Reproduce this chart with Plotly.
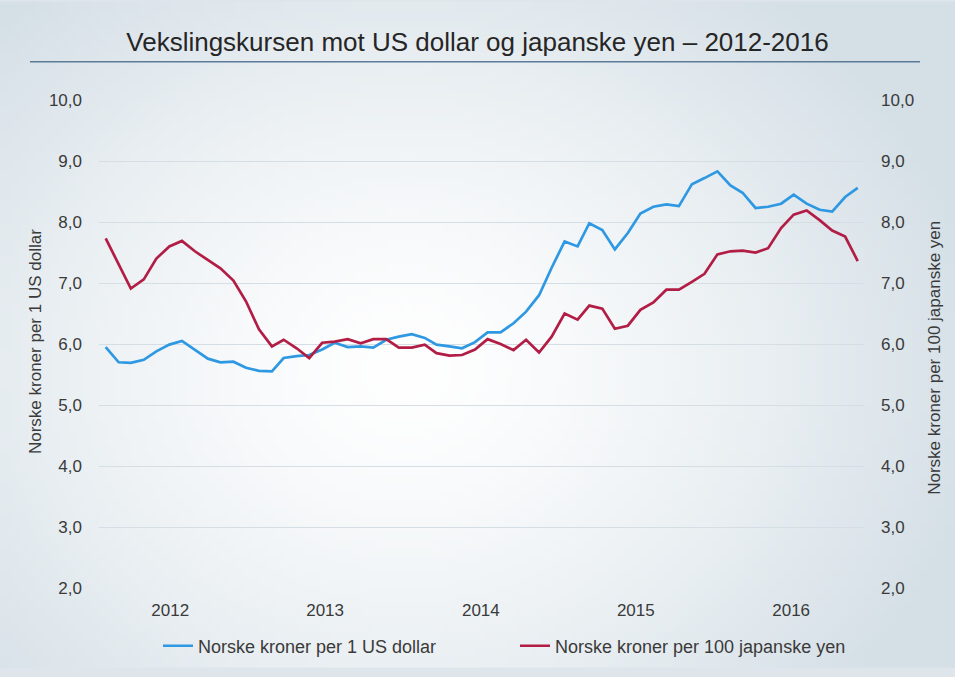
import base64, struct, zlib
import pandas as pd
import plotly.graph_objects as go

# ---------------- data ----------------
months = [d.strftime("%Y-%m-%d") for d in pd.date_range("2012-01-01", "2016-12-01", freq="MS")]

usd_nok = [5.95, 5.70, 5.69, 5.74, 5.88, 5.99, 6.05, 5.91, 5.76, 5.70,
           5.71, 5.61, 5.56, 5.55, 5.77, 5.80, 5.82, 5.91, 6.02, 5.95,
           5.96, 5.94, 6.07, 6.12, 6.16, 6.10, 5.99, 5.96, 5.93, 6.03,
           6.19, 6.19, 6.34, 6.53, 6.80, 7.25, 7.68, 7.60, 7.98, 7.87,
           7.55, 7.82, 8.14, 8.25, 8.29, 8.26, 8.62, 8.72, 8.83, 8.60,
           8.48, 8.23, 8.25, 8.30, 8.45, 8.30, 8.20, 8.17, 8.41, 8.56]

jpy100_nok = [7.73, 7.30, 6.91, 7.06, 7.40, 7.60, 7.69, 7.52, 7.38, 7.24,
              7.04, 6.70, 6.24, 5.96, 6.07, 5.93, 5.77, 6.02, 6.04, 6.08,
              6.01, 6.08, 6.08, 5.94, 5.94, 5.99, 5.85, 5.81, 5.82, 5.91,
              6.08, 6.00, 5.90, 6.07, 5.86, 6.12, 6.50, 6.40, 6.63, 6.58,
              6.25, 6.30, 6.56, 6.68, 6.89, 6.89, 7.02, 7.15, 7.47, 7.52,
              7.53, 7.50, 7.57, 7.90, 8.12, 8.19, 8.03, 7.86, 7.76, 7.36]

year_ticks = ["2012-06-03", "2013-06-08", "2014-06-15", "2015-06-20", "2016-06-25"]
year_labels = ["2012", "2013", "2014", "2015", "2016"]
y_ticks = [2, 3, 4, 5, 6, 7, 8, 9, 10]

name_usd = "Norske kroner per 1 US dollar"
name_jpy = "Norske kroner per 100 japanske yen"
title_text = "Vekslingskursen mot US dollar og japanske yen \u2013 2012-2016"

# ---------------- geometry ----------------
W, H = 955, 677
L, R, T, B = 99, 864, 100, 596
pw, ph = R - L, B - T


def px_x(x):
    return (x - L) / pw


def px_y(y):
    return (B - y) / ph


# ---------------- background gradient image ----------------
def gradient_png(w=120, h=85):
    rows = []
    cx, cy = 0.42 * w, 0.55 * h
    inner = (255, 255, 255)
    outer = (212, 223, 230)
    for j in range(h):
        row = bytearray([0])
        for i in range(w):
            dx = (i - cx) / (0.62 * w)
            dy = (j - cy) / (0.75 * h)
            t = min(1.0, (dx * dx + dy * dy) ** 0.5)
            t = t ** 1.4
            c = [int(inner[k] + (outer[k] - inner[k]) * t) for k in range(3)]
            row += bytes(c)
        rows.append(bytes(row))
    raw = b"".join(rows)

    def chunk(tag, data):
        c = struct.pack(">I", len(data)) + tag + data
        return c + struct.pack(">I", zlib.crc32(tag + data) & 0xffffffff)

    png = b"\x89PNG\r\n\x1a\n"
    png += chunk(b"IHDR", struct.pack(">IIBBBBB", w, h, 8, 2, 0, 0, 0))
    png += chunk(b"IDAT", zlib.compress(raw, 9))
    png += chunk(b"IEND", b"")
    return "data:image/png;base64," + base64.b64encode(png).decode()


FONT = "Liberation Sans, Arial, sans-serif"
TXT = "#3a3a3a"

fig = go.Figure()
fig.add_trace(go.Scatter(x=months, y=usd_nok, name=name_usd, mode="lines",
                         line=dict(color="#2f98e2", width=2.7)))
fig.add_trace(go.Scatter(x=months, y=jpy100_nok, name=name_jpy, mode="lines",
                         line=dict(color="#b21d45", width=2.7), yaxis="y2"))

fig.update_layout(
    width=W, height=H,
    margin=dict(l=L, r=W - R, t=T, b=H - B),
    paper_bgcolor="#dfe6eb",
    plot_bgcolor="rgba(0,0,0,0)",
    separators=", ",
    font=dict(family=FONT, size=17, color=TXT),
    title=dict(text=title_text, x=0.5, xref="container", xanchor="center",
               y=1 - 42 / H, yref="container", yanchor="middle",
               font=dict(family=FONT, size=26, color="#262626")),
    xaxis=dict(type="date", range=["2011-12-16", "2016-12-16"],
               tickvals=year_ticks, ticktext=year_labels,
               showgrid=False, zeroline=False, showline=False, ticks="",
               ticklabelstandoff=10, tickfont=dict(size=17, color=TXT)),
    yaxis=dict(range=[2, 10], tickvals=y_ticks, tickformat=".1f",
               showgrid=True, gridcolor="#d6dee5", gridwidth=1,
               zeroline=False, showline=False, ticks="",
               ticklabelstandoff=16, tickfont=dict(size=17, color=TXT)),
    yaxis2=dict(range=[2, 10], tickvals=y_ticks, tickformat=".1f",
                overlaying="y", side="right", showgrid=False,
                zeroline=False, showline=False, ticks="",
                ticklabelstandoff=16, tickfont=dict(size=17, color=TXT)),
    legend=dict(orientation="h", x=px_x(158), xanchor="left",
                y=px_y(655), yanchor="middle",
                entrywidth=312, entrywidthmode="pixels",
                font=dict(family=FONT, size=18, color=TXT),
                bgcolor="rgba(0,0,0,0)"),
    showlegend=True,
)

fig.add_layout_image(dict(source=gradient_png(), xref="paper", yref="paper",
                          x=px_x(0), y=px_y(0), sizex=W / pw, sizey=H / ph,
                          xanchor="left", yanchor="top", sizing="stretch",
                          layer="below", opacity=1))

fig.add_shape(type="line", xref="paper", yref="paper",
              x0=px_x(30), x1=px_x(920), y0=px_y(61), y1=px_y(61),
              line=dict(color="#5c7b98", width=1.5))

fig.add_annotation(text=name_usd, textangle=-90, xref="paper", yref="paper",
                   x=px_x(35), y=px_y(346), showarrow=False,
                   xanchor="center", yanchor="middle",
                   font=dict(family=FONT, size=17, color=TXT))
fig.add_annotation(text=name_jpy, textangle=-90, xref="paper", yref="paper",
                   x=px_x(935), y=px_y(362), showarrow=False,
                   xanchor="center", yanchor="middle",
                   font=dict(family=FONT, size=17, color=TXT))

fig.write_html("out.html",
               config={"displayModeBar": False},
               post_script="document.body.style.margin='0';document.body.style.overflow='hidden';")
